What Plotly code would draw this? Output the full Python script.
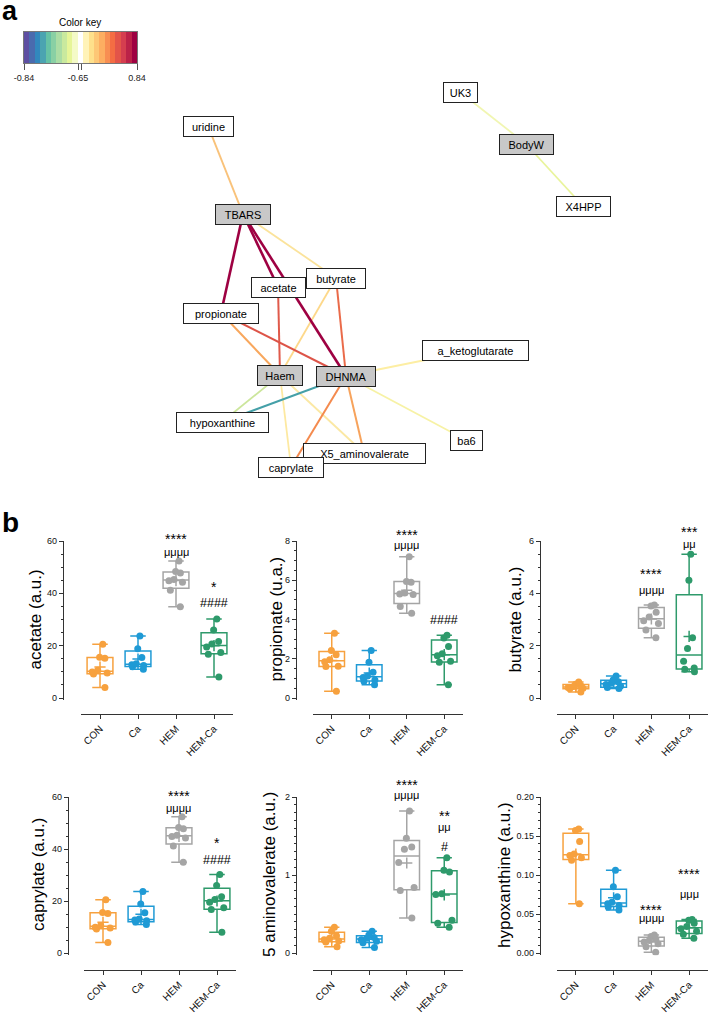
import numpy as np
import plotly.graph_objects as go

W, H = 708, 1014
FONT = "Liberation Sans, Arial, Helvetica, sans-serif"

# ---------------- Panel a : network data ----------------
node_names = ["uridine", "TBARS", "acetate", "butyrate", "propionate", "Haem", "DHNMA",
              "a_ketoglutarate", "hypoxanthine", "ba6", "X5_aminovalerate", "caprylate",
              "BodyW", "UK3", "X4HPP"]
node_x = [208, 243, 278, 336, 221, 280, 346, 475, 222, 466, 364, 291, 526, 460, 583]
node_y = [126, 214, 287, 278, 313, 375, 376, 350, 422, 440, 453, 467, 144, 92, 206]
clinical_nodes = ["TBARS", "Haem", "DHNMA", "BodyW"]

edge_from = ["TBARS", "butyrate", "Haem", "Haem", "DHNMA", "DHNMA", "UK3", "BodyW",
             "Haem", "uridine", "propionate", "DHNMA", "DHNMA", "butyrate", "acetate",
             "propionate", "DHNMA", "TBARS", "TBARS", "TBARS"]
edge_to = ["butyrate", "Haem", "caprylate", "X5_aminovalerate", "a_ketoglutarate", "ba6",
           "BodyW", "X4HPP", "hypoxanthine", "TBARS", "Haem", "X5_aminovalerate",
           "caprylate", "DHNMA", "Haem", "DHNMA", "hypoxanthine", "propionate",
           "acetate", "DHNMA"]

# styles (edge colour from colour key, line width, node box widths)
edge_colors = ["#fbe39b", "#fdd88a", "#fde9a1", "#fbe8a3", "#fdeea3", "#f7f2a5", "#f1f6b2",
               "#e9f49b", "#cce69c", "#f9c27a", "#f8a75d", "#f7a35c", "#f48a4e", "#ea6b4a",
               "#e05a4b", "#dd5448", "#45a0a8", "#9e0142", "#9e0142", "#9e0142"]
edge_widths = [1.8] * 9 + [2.0] * 8 + [2.6] * 3
node_box_w = {"uridine": 51, "TBARS": 56, "acetate": 55, "butyrate": 60, "propionate": 76,
              "Haem": 46, "DHNMA": 60, "a_ketoglutarate": 107, "hypoxanthine": 93,
              "ba6": 33, "X5_aminovalerate": 123, "caprylate": 66, "BodyW": 55,
              "UK3": 35, "X4HPP": 55}

# colour key
colorkey_colors = ["#5e4fa2", "#4a6bae", "#3288bd", "#4ba4b1", "#66c2a5", "#89d0a4",
                   "#abdda4", "#c9e99e", "#e6f598", "#f4fac7", "#ffffff", "#fff3b8",
                   "#fee08b", "#fdc776", "#fdae61", "#f88e52", "#f46d43", "#e35449",
                   "#d53e4f", "#bb2248", "#9e0142"]
colorkey_ticktext = ["-0.84", "-0.65", "", "0.84"]

# ---------------- Panel b : box plot data ----------------
groups = ["CON", "Ca", "HEM", "HEM-Ca"]
group_colors = ["#f7a13e", "#1f9ad5", "#a5a5a5", "#2e9a6b"]

acetate_con = [4.0, 9.2, 9.6, 9.9, 10.6, 15.2, 15.6, 20.5]
acetate_ca = [11.0, 11.9, 12.4, 12.7, 13.1, 15.5, 18.8, 23.7]
acetate_hem = [34.9, 41.2, 44.2, 44.8, 45.3, 47.8, 48.3, 52.4]
acetate_hemca = [8.0, 16.7, 17.4, 19.5, 20.6, 21.6, 26.0, 30.2]

propionate_con = [0.34, 1.60, 1.62, 1.85, 1.95, 2.20, 2.42, 3.30]
propionate_ca = [0.68, 0.85, 0.92, 1.05, 1.12, 1.31, 1.82, 2.42]
propionate_hem = [4.32, 4.66, 5.28, 5.30, 5.35, 5.90, 5.94, 7.20]
propionate_hemca = [0.68, 1.82, 1.87, 2.15, 2.25, 2.62, 3.06, 3.20]

butyrate_con = [0.23, 0.35, 0.37, 0.40, 0.44, 0.48, 0.53, 0.61]
butyrate_ca = [0.36, 0.40, 0.46, 0.52, 0.57, 0.62, 0.70, 0.84]
butyrate_hem = [2.30, 2.60, 2.85, 2.95, 3.10, 3.28, 3.52, 3.55]
butyrate_hemca = [1.00, 1.10, 1.15, 1.40, 1.89, 2.30, 4.50, 5.49]

caprylate_con = [4.0, 9.2, 9.6, 9.9, 10.6, 15.2, 15.6, 20.5]
caprylate_ca = [11.0, 11.9, 12.4, 12.7, 13.1, 15.5, 18.8, 23.7]
caprylate_hem = [34.9, 41.2, 44.2, 44.8, 45.3, 47.8, 48.3, 52.4]
caprylate_hemca = [8.0, 16.7, 17.4, 19.5, 20.6, 21.6, 26.0, 30.2]

aminovalerate_con = [0.08, 0.14, 0.155, 0.17, 0.19, 0.22, 0.28, 0.33]
aminovalerate_ca = [0.07, 0.13, 0.15, 0.17, 0.19, 0.20, 0.23, 0.28]
aminovalerate_hem = [0.45, 0.80, 0.84, 1.16, 1.33, 1.36, 1.47, 1.82]
aminovalerate_hemca = [0.33, 0.38, 0.42, 0.75, 0.76, 1.04, 1.06, 1.22]

hypoxanthine_con = [0.063, 0.119, 0.122, 0.125, 0.127, 0.143, 0.157, 0.159]
hypoxanthine_ca = [0.055, 0.059, 0.061, 0.063, 0.065, 0.072, 0.085, 0.106]
hypoxanthine_hem = [0.001, 0.008, 0.012, 0.014, 0.016, 0.018, 0.021, 0.023]
hypoxanthine_hemca = [0.019, 0.024, 0.028, 0.031, 0.034, 0.038, 0.042, 0.043]

panel_titles = ["acetate (a.u.)", "propionate (u.a.)", "butyrate (a.u.)",
                "caprylate (a.u.)", "5 aminovalerate (a.u.)", "hypoxanthine (a.u.)"]
panel_data = [
    [acetate_con, acetate_ca, acetate_hem, acetate_hemca],
    [propionate_con, propionate_ca, propionate_hem, propionate_hemca],
    [butyrate_con, butyrate_ca, butyrate_hem, butyrate_hemca],
    [caprylate_con, caprylate_ca, caprylate_hem, caprylate_hemca],
    [aminovalerate_con, aminovalerate_ca, aminovalerate_hem, aminovalerate_hemca],
    [hypoxanthine_con, hypoxanthine_ca, hypoxanthine_hem, hypoxanthine_hemca],
]
panel_ymax = [60, 8, 6, 60, 2, 0.20]
panel_dtick = [20, 2, 2, 20, 1, 0.05]
panel_minor = [5, 0.5, 0.5, 5, 0.1, 0.01]
panel_tickformat = ["d", "d", "d", "d", "d", ".2f"]

# significance marks: (group, y, text)
panel_sig = [
    [("HEM", 62.3, "****"), ("HEM", 55.8, "μμμμ"), ("HEM-Ca", 44.0, "*"), ("HEM-Ca", 36.3, "####")],
    [("HEM", 8.5, "****"), ("HEM", 7.8, "μμμμ"), ("HEM-Ca", 3.95, "####")],
    [("HEM", 4.9, "****"), ("HEM", 4.13, "μμμμ"), ("HEM-Ca", 6.5, "***"), ("HEM-Ca", 5.9, "μμ")],
    [("HEM", 61.9, "****"), ("HEM", 55.8, "μμμμ"), ("HEM-Ca", 43.8, "*"), ("HEM-Ca", 35.8, "####")],
    [("HEM", 2.2, "****"), ("HEM", 2.03, "μμμμ"), ("HEM-Ca", 1.81, "**"), ("HEM-Ca", 1.62, "μμ"),
     ("HEM-Ca", 1.36, "#")],
    [("HEM", 0.060, "****"), ("HEM", 0.045, "μμμμ"), ("HEM-Ca", 0.106, "****"), ("HEM-Ca", 0.076, "μμμ")],
]

# panel geometry in pixels: y-axis x, x-domain, y of zero, y of top, x-axis line y, title x
panel_geom = [
    dict(yx=63, x0=81, x1=233, y0=698, yt=541, xl=714, tx=35),
    dict(yx=296, x0=313, x1=463, y0=698, yt=541, xl=714, tx=276),
    dict(yx=540, x0=557, x1=708, y0=698, yt=541, xl=714, tx=515),
    dict(yx=68, x0=84, x1=236, y0=953, yt=797, xl=970, tx=38),
    dict(yx=296, x0=313, x1=463, y0=953, yt=797, xl=970, tx=269),
    dict(yx=540, x0=557, x1=708, y0=953, yt=797, xl=970, tx=504),
]

AXC = "#333333"
fig = go.Figure()
annotations = []
layout = {}

# ---------------- network ----------------
pos = {n: (x, y) for n, x, y in zip(node_names, node_x, node_y)}
for a, b, c, w in zip(edge_from, edge_to, edge_colors, edge_widths):
    fig.add_trace(go.Scatter(x=[pos[a][0], pos[b][0]], y=[pos[a][1], pos[b][1]],
                             xaxis="x7", yaxis="y7", mode="lines",
                             line=dict(color=c, width=w), hoverinfo="skip"))
layout["xaxis7"] = dict(domain=[0, 1], range=[0, W], visible=False, anchor="y7", automargin=False)
layout["yaxis7"] = dict(domain=[1 - 490 / H, 1], range=[490, 0], visible=False, anchor="x7",
                        automargin=False)
for n in node_names:
    annotations.append(dict(
        x=pos[n][0], y=pos[n][1], xref="x7", yref="y7", text=n, showarrow=False,
        xanchor="center", yanchor="middle",
        font=dict(family=FONT, size=11, color="black"),
        bgcolor="#c8c8c8" if n in clinical_nodes else "white",
        bordercolor="#222222", borderwidth=1, borderpad=0,
        width=node_box_w[n] - 2, height=19, align="center", valign="middle"))

# colour key
fig.add_trace(go.Heatmap(z=[list(range(len(colorkey_colors)))], xaxis="x8", yaxis="y8",
                         colorscale=[[i / (len(colorkey_colors) - 1), c] for i, c in enumerate(colorkey_colors)],
                         zmin=0, zmax=len(colorkey_colors) - 1, showscale=False, hoverinfo="skip"))
layout["xaxis8"] = dict(domain=[24 / W, 137 / W], range=[-0.5, 20.5], anchor="y8",
                        tickmode="array", tickvals=[-0.5, 9.55, 10.27, 20.5],
                        ticktext=colorkey_ticktext, ticks="outside", ticklen=6,
                        tickcolor="#555", tickfont=dict(family=FONT, size=9, color="#222"),
                        showline=True, mirror=True, linecolor="#777", linewidth=1,
                        showgrid=False, zeroline=False, automargin=False)
layout["yaxis8"] = dict(domain=[1 - 63 / H, 1 - 32 / H], range=[-0.5, 0.5], anchor="x8",
                        showticklabels=False, ticks="", showline=True, mirror=True,
                        linecolor="#777", linewidth=1, showgrid=False, zeroline=False,
                        automargin=False)
annotations.append(dict(x=80 / W, y=1 - 22 / H, xref="paper", yref="paper", text="Color key",
                        xanchor="center", yanchor="middle", showarrow=False,
                        font=dict(family=FONT, size=10, color="black")))
annotations.append(dict(x=0, y=1 - 11 / H, xref="paper", yref="paper", text="<b>a</b>",
                        xanchor="left", yanchor="middle", showarrow=False,
                        font=dict(family=FONT, size=27, color="black")))
annotations.append(dict(x=0, y=1 - 522 / H, xref="paper", yref="paper", text="<b>b</b>",
                        xanchor="left", yanchor="middle", showarrow=False,
                        font=dict(family=FONT, size=28, color="black")))

# significance text styles
sig_size = {"*": 14, "μ": 11, "#": 12.5}
sig_shift = {"*": -4, "μ": 0, "#": 0}

# ---------------- box plots ----------------
for i in range(6):
    g = panel_geom[i]
    sfx = "" if i == 0 else str(i + 1)
    xr, yr = "x" + sfx, "y" + sfx
    for cat, col, pts in zip(groups, group_colors, panel_data[i]):
        p = np.array(pts, dtype=float)
        q1, med, q3 = np.percentile(p, [25, 50, 75], method="weibull")
        fig.add_trace(go.Box(x=[cat], q1=[q1], median=[med], q3=[q3],
                             lowerfence=[p.min()], upperfence=[p.max()],
                             xaxis=xr, yaxis=yr, boxpoints=False, width=0.68,
                             whiskerwidth=0.6, fillcolor="rgba(255,255,255,0)",
                             line=dict(color=col, width=1.5), hoverinfo="skip"))
        fig.add_trace(go.Box(x=[cat] * len(p), y=p, xaxis=xr, yaxis=yr, boxpoints="all",
                             jitter=0.8, pointpos=0, width=0.68,
                             fillcolor="rgba(0,0,0,0)", line=dict(color="rgba(0,0,0,0)", width=0),
                             marker=dict(color=col, size=7), hoverinfo="skip"))
        fig.add_trace(go.Scatter(x=[cat], y=[p.mean()], xaxis=xr, yaxis=yr, mode="markers",
                                 marker=dict(symbol="cross-thin", size=8, line=dict(color=col, width=1.5)),
                                 cliponaxis=False, hoverinfo="skip"))
    ymax = panel_ymax[i]
    lo = -0.015 * ymax
    ybot = g["y0"] + 0.015 * (g["y0"] - g["yt"])
    layout["xaxis" + sfx] = dict(domain=[g["x0"] / W, g["x1"] / W], anchor="free",
                                 position=1 - g["xl"] / H, type="category", categoryorder="array",
                                 categoryarray=groups, range=[-0.5, 3.5], showline=True,
                                 linecolor=AXC, linewidth=1.3, ticks="outside", ticklen=4,
                                 tickwidth=1.2, tickcolor=AXC, tickangle=-45,
                                 tickfont=dict(family=FONT, size=10, color="#111"),
                                 showgrid=False, zeroline=False, automargin=False)
    layout["yaxis" + sfx] = dict(domain=[1 - ybot / H, 1 - g["yt"] / H], anchor="free",
                                 position=g["yx"] / W, range=[lo, ymax], showline=True,
                                 linecolor=AXC, linewidth=1.3, ticks="outside", ticklen=4,
                                 tickwidth=1.2, tickcolor=AXC, dtick=panel_dtick[i], tick0=0,
                                 tickformat=panel_tickformat[i],
                                 tickfont=dict(family=FONT, size=9, color="#111"),
                                 minor=dict(ticks="outside", ticklen=2, tickcolor=AXC,
                                            dtick=panel_minor[i], showgrid=False),
                                 showgrid=False, zeroline=False, automargin=False)
    annotations.append(dict(x=g["tx"] / W, y=1 - ((g["y0"] + g["yt"]) / 2) / H, xref="paper",
                            yref="paper", text=panel_titles[i], textangle=-90, showarrow=False,
                            xanchor="center", yanchor="middle",
                            font=dict(family=FONT, size=17, color="black")))
    # significance marks placed in paper space (they may sit above the axis range)
    step = (g["x1"] - g["x0"]) / len(groups)
    for cat, yv, txt in panel_sig[i]:
        px = g["x0"] + (groups.index(cat) + 0.5) * step
        py = g["y0"] - yv * (g["y0"] - g["yt"]) / ymax
        annotations.append(dict(x=px / W, y=1 - py / H, xref="paper", yref="paper", text=txt,
                                showarrow=False, xanchor="center", yanchor="middle",
                                yshift=sig_shift[txt[0]],
                                font=dict(family=FONT, size=sig_size[txt[0]], color="black")))

fig.update_layout(width=W, height=H, margin=dict(l=0, r=0, t=0, b=0, autoexpand=False),
                  paper_bgcolor="white", plot_bgcolor="white", showlegend=False,
                  font=dict(family=FONT), annotations=annotations, **layout)
fig.write_html("out.html", config={"displayModeBar": False},
               post_script="document.body.style.margin='0';document.body.style.padding='0';"
                           "document.documentElement.style.overflow='hidden';")
